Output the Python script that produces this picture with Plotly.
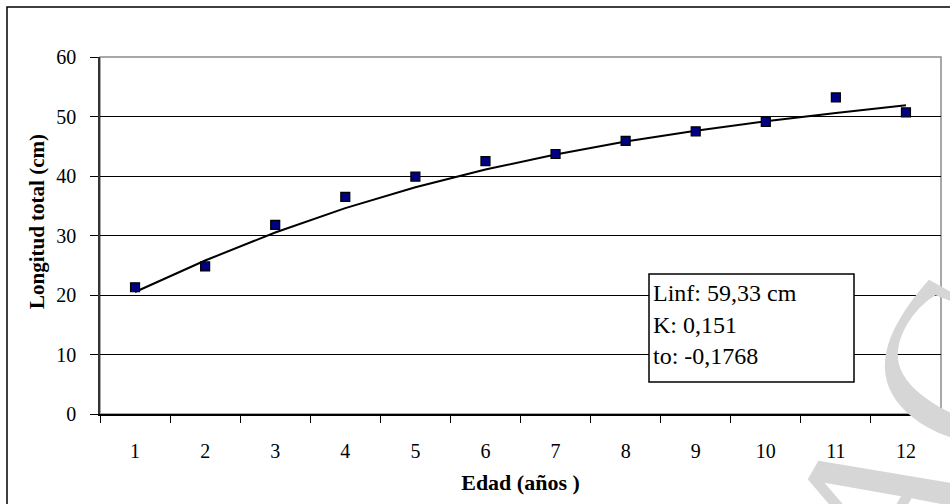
import plotly.graph_objects as go

ages = ["1", "2", "3", "4", "5", "6", "7", "8", "9", "10", "11", "12"]
observed = [21.3, 24.8, 31.8, 36.5, 39.9, 42.5, 43.7, 45.9, 47.5, 49.1, 53.2, 50.7]
fitted = [20.5, 25.8, 30.5, 34.6, 38.1, 41.1, 43.6, 45.8, 47.6, 49.2, 50.6, 51.9]
y_ticks = [0, 10, 20, 30, 40, 50, 60]
box_lines = ["Linf: 59,33 cm", "K: 0,151", "to: -0,1768"]

FONT = "Liberation Serif"

fig = go.Figure()
fig.add_trace(go.Scatter(x=ages, y=fitted, mode="lines",
                         line=dict(color="black", width=2), hoverinfo="skip",
                         showlegend=False))
fig.add_trace(go.Scatter(x=ages, y=observed, mode="markers",
                         marker=dict(symbol="square", size=9, color="#000080",
                                     line=dict(color="black", width=1.2)),
                         showlegend=False))

W, H = 950, 504
L, R, T, B = 100, 9, 57, 90
pw, ph = W - L - R, H - T - B

def px(xpix):
    return (xpix - L) / pw

def py(ypix):
    return (H - B - ypix) / ph

shapes = [
    # outer chart border (extends beyond window on right/bottom)
    dict(type="rect", xref="paper", yref="paper", x0=px(7), x1=px(1000),
         y0=py(560), y1=py(7), line=dict(color="black", width=1.5), layer="below"),
    # plot area border (gray top/right)
    dict(type="rect", xref="paper", yref="paper", x0=0, x1=1, y0=0, y1=1,
         line=dict(color="#8c8c8c", width=1.5), layer="below"),
]

annotations = [
    dict(text="ACC", xref="paper", yref="paper", x=px(955), y=py(372),
         xanchor="center", yanchor="middle",
         showarrow=False, textangle=-60,
         font=dict(family=FONT, size=230, color="#d6d6d6")),
    dict(text="<b>Longitud total (cm)</b>", xref="paper", yref="paper",
         x=px(37), y=py(222), xanchor="center", yanchor="middle",
         showarrow=False, textangle=-90,
         font=dict(family=FONT, size=21, color="black")),
]
# text box
shapes.append(dict(type="rect", xref="paper", yref="paper",
                   x0=px(649), x1=px(854), y0=py(382), y1=py(274),
                   line=dict(color="black", width=1.5), fillcolor="white"))
for i, t in enumerate(box_lines):
    annotations.append(dict(text=t, xref="paper", yref="paper",
                            x=px(651), y=py(293 + 31.5 * i), xanchor="left",
                            yanchor="middle", showarrow=False,
                            font=dict(family=FONT, size=24, color="black")))

fig.update_layout(
    width=W, height=H,
    margin=dict(l=L, r=R, t=T, b=B, pad=0),
    paper_bgcolor="white", plot_bgcolor="white",
    font=dict(family=FONT, size=20, color="black"),
    shapes=shapes, annotations=annotations,
    xaxis=dict(type="category", tickson="boundaries", range=[-0.5, 11.5],
               showline=True, linecolor="black", linewidth=1.5,
               ticks="outside", ticklen=7, tickcolor="black", tickwidth=1,
               showgrid=False, ticklabelstandoff=18,
               title=dict(text="<b>Edad (años )</b>", standoff=14,
                          font=dict(family=FONT, size=22))),
    yaxis=dict(range=[0, 60], tickvals=y_ticks, showline=True,
               linecolor="#333333", linewidth=1.5,
               ticks="outside", ticklen=8, tickcolor="black",
               showgrid=True, gridcolor="black", gridwidth=1,
               zeroline=False, ticklabelstandoff=10),
)

fig.write_html("out.html")
